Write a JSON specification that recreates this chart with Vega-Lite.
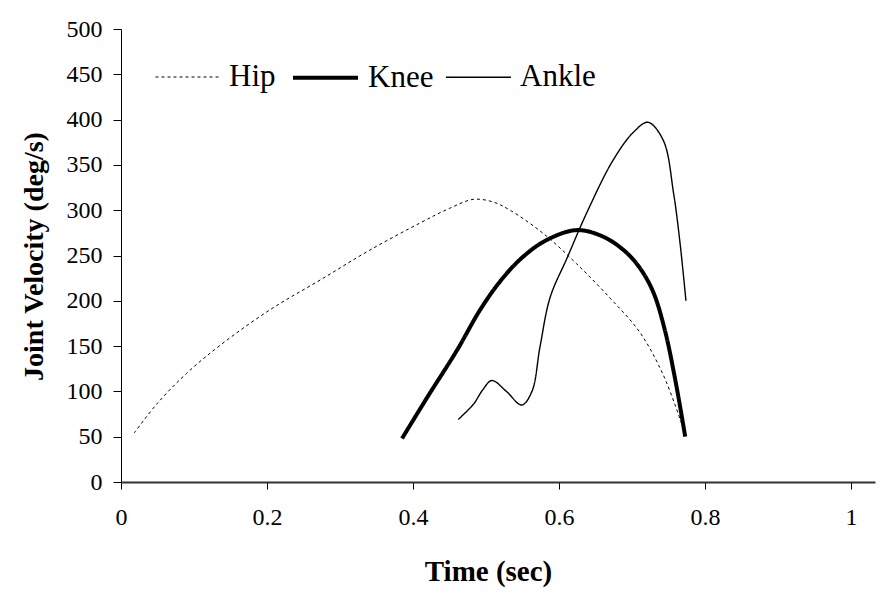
{
  "$schema": "https://vega.github.io/schema/vega-lite/v6.json",
  "width": 754,
  "height": 453,
  "autosize": {"type": "none"},
  "padding": {"left": 121, "top": 29, "right": 11, "bottom": 115},
  "background": "white",
  "config": {
    "view": {"stroke": null},
    "font": "Liberation Serif"
  },
  "data": {
    "values": [
      {"series": "Hip", "t": 0.018, "v": 54},
      {"series": "Hip", "t": 0.05, "v": 87},
      {"series": "Hip", "t": 0.09, "v": 120},
      {"series": "Hip", "t": 0.136, "v": 151},
      {"series": "Hip", "t": 0.204, "v": 190},
      {"series": "Hip", "t": 0.273, "v": 223},
      {"series": "Hip", "t": 0.341, "v": 256},
      {"series": "Hip", "t": 0.41, "v": 286},
      {"series": "Hip", "t": 0.45, "v": 302},
      {"series": "Hip", "t": 0.483, "v": 312},
      {"series": "Hip", "t": 0.51, "v": 309},
      {"series": "Hip", "t": 0.533, "v": 300},
      {"series": "Hip", "t": 0.579, "v": 274},
      {"series": "Hip", "t": 0.624, "v": 241},
      {"series": "Hip", "t": 0.67, "v": 203},
      {"series": "Hip", "t": 0.711, "v": 165},
      {"series": "Hip", "t": 0.743, "v": 118},
      {"series": "Hip", "t": 0.77, "v": 60},
      {"series": "Knee", "t": 0.385, "v": 48},
      {"series": "Knee", "t": 0.42, "v": 94},
      {"series": "Knee", "t": 0.46, "v": 145},
      {"series": "Knee", "t": 0.492, "v": 190},
      {"series": "Knee", "t": 0.52, "v": 222},
      {"series": "Knee", "t": 0.55, "v": 248},
      {"series": "Knee", "t": 0.583, "v": 267},
      {"series": "Knee", "t": 0.624, "v": 278},
      {"series": "Knee", "t": 0.66, "v": 271},
      {"series": "Knee", "t": 0.69, "v": 255},
      {"series": "Knee", "t": 0.711, "v": 236},
      {"series": "Knee", "t": 0.729, "v": 210},
      {"series": "Knee", "t": 0.745, "v": 168},
      {"series": "Knee", "t": 0.76, "v": 110},
      {"series": "Knee", "t": 0.773, "v": 50},
      {"series": "Ankle", "t": 0.462, "v": 69},
      {"series": "Ankle", "t": 0.483, "v": 86},
      {"series": "Ankle", "t": 0.495, "v": 101},
      {"series": "Ankle", "t": 0.508, "v": 112},
      {"series": "Ankle", "t": 0.528, "v": 100},
      {"series": "Ankle", "t": 0.549, "v": 85},
      {"series": "Ankle", "t": 0.563, "v": 100},
      {"series": "Ankle", "t": 0.574, "v": 149},
      {"series": "Ankle", "t": 0.588, "v": 204},
      {"series": "Ankle", "t": 0.611, "v": 247},
      {"series": "Ankle", "t": 0.638, "v": 297},
      {"series": "Ankle", "t": 0.674, "v": 355},
      {"series": "Ankle", "t": 0.702, "v": 386},
      {"series": "Ankle", "t": 0.722, "v": 397},
      {"series": "Ankle", "t": 0.743, "v": 377},
      {"series": "Ankle", "t": 0.757, "v": 319},
      {"series": "Ankle", "t": 0.766, "v": 263},
      {"series": "Ankle", "t": 0.774, "v": 200}
    ]
  },
  "mark": {"type": "line", "interpolate": "catmull-rom", "color": "black"},
  "encoding": {
    "x": {
      "field": "t",
      "type": "quantitative",
      "scale": {"domain": [0, 1.033], "nice": false, "zero": false},
      "axis": {
        "values": [0, 0.2, 0.4, 0.6, 0.8, 1],
        "format": "~g",
        "grid": false,
        "title": "Time (sec)",
        "titleFont": "Liberation Serif",
        "titleFontSize": 29,
        "titleFontWeight": "bold",
        "titleColor": "black",
        "titleBaseline": "middle",
        "titleX": 367,
        "titleY": 89,
        "labelFont": "Liberation Serif",
        "labelFontSize": 24,
        "labelColor": "black",
        "labelPadding": 16,
        "labelFlush": false,
        "tickSize": 7,
        "tickColor": "black",
        "domainColor": "#333333",
        "domainWidth": 2
      }
    },
    "y": {
      "field": "v",
      "type": "quantitative",
      "scale": {"domain": [0, 500], "nice": false},
      "axis": {
        "values": [0, 50, 100, 150, 200, 250, 300, 350, 400, 450, 500],
        "grid": false,
        "title": "Joint Velocity (deg/s)",
        "titleFont": "Liberation Serif",
        "titleFontSize": 28,
        "titleFontWeight": "bold",
        "titleColor": "black",
        "titleBaseline": "middle",
        "titleX": -87,
        "titleY": 227,
        "labelFont": "Liberation Serif",
        "labelFontSize": 24,
        "labelColor": "black",
        "labelPadding": 11,
        "tickSize": 8,
        "tickColor": "black",
        "domainColor": "black",
        "domainWidth": 1
      }
    },
    "strokeDash": {
      "field": "series",
      "type": "nominal",
      "scale": {"domain": ["Hip", "Knee", "Ankle"], "range": [[3, 3], [1, 0], [1, 0]]},
      "legend": {
        "title": null,
        "orient": "none",
        "direction": "horizontal",
        "legendX": 34,
        "legendY": 14,
        "padding": 0,
        "symbolType": "stroke",
        "symbolSize": 4225,
        "symbolStrokeColor": "black",
        "labelFont": "Liberation Serif",
        "labelFontSize": 31,
        "labelColor": "black",
        "labelOffset": 8,
        "columnPadding": 9
      }
    },
    "strokeWidth": {
      "field": "series",
      "type": "nominal",
      "scale": {"type": "ordinal", "domain": ["Hip", "Knee", "Ankle"], "range": [1, 4, 1.4]},
      "legend": {
        "title": null,
        "orient": "none",
        "direction": "horizontal",
        "legendX": 34,
        "legendY": 14,
        "padding": 0,
        "symbolType": "stroke",
        "symbolSize": 4225,
        "symbolStrokeColor": "black",
        "labelFont": "Liberation Serif",
        "labelFontSize": 31,
        "labelColor": "black",
        "labelOffset": 8,
        "columnPadding": 9
      }
    }
  }
}
